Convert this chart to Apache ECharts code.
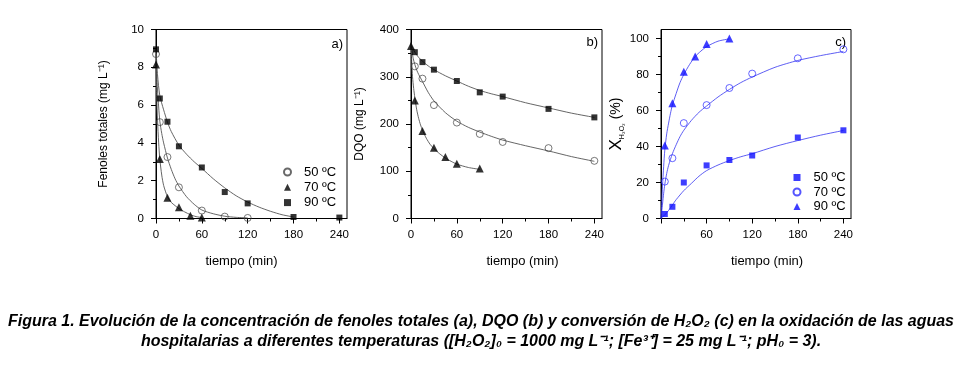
<!DOCTYPE html>
<html><head><meta charset="utf-8">
<script src="https://cdn.jsdelivr.net/npm/echarts@6/dist/echarts.min.js"></script>
<style>html,body{margin:0;padding:0;background:#fff}#c{width:962px;height:385px}</style>
</head><body><div id="c"></div>
<script>
// ---------- tick values ----------
const xMajor = [0, 60, 120, 180, 240];
const xMinor = [30, 90, 150, 210];
const xLabelsC = [60, 120, 180, 240];
const yMajorA = [0, 2, 4, 6, 8, 10];
const yMinorA = [1, 3, 5, 7, 9];
const yMajorB = [0, 100, 200, 300, 400];
const yMinorB = [50, 150, 250, 350];
const yMajorC = [0, 20, 40, 60, 80, 100];
const yMinorC = [10, 30, 50, 70, 90];

// ---------- panel a: Fenoles totales (mg L-1) ----------
const a50 = [[0,8.7],[5,5.1],[15,3.25],[30,1.65],[60,0.42],[90,0.1],[120,0.03]];
const a70 = [[0,8.15],[5,3.15],[15,1.1],[30,0.6],[45,0.15],[60,0.05]];
const a90 = [[0,8.95],[5,6.35],[15,5.12],[30,3.82],[60,2.7],[90,1.4],[120,0.8],[180,0.08],[240,0.05]];
// fitted curves
const a50fit = [[0,8.7],[1,7.6],[2,6.8],[3.5,5.9],[5,5.15],[7.5,4.5],[10,4.0],[15,3.2],[20,2.6],[25,2.1],[30,1.72],[40,1.15],[50,0.75],[60,0.45],[75,0.25],[90,0.12],[105,0.06],[120,0.03]];
const a70fit = [[0,8.15],[1,6.4],[2,5.2],[3.5,4.0],[5,3.15],[7.5,2.3],[10,1.75],[15,1.15],[20,0.85],[25,0.68],[30,0.52],[37.5,0.35],[45,0.2],[52.5,0.1],[60,0.05]];
const a90fit = [[0,8.95],[2,7.6],[5,6.5],[10,5.75],[15,5.1],[20,4.6],[30,3.88],[40,3.4],[50,3.0],[60,2.65],[75,2.1],[90,1.62],[105,1.2],[120,0.87],[135,0.6],[150,0.38],[165,0.2],[180,0.08]];

// ---------- panel b: DQO (mg L-1) ----------
const b50 = [[5,322],[15,296],[30,240],[60,203],[90,179],[120,162],[180,149],[240,122]];
const b70 = [[0,365],[5,250],[15,185],[30,150],[45,130],[60,116],[90,106]];
const b90 = [[5,352],[15,331],[30,315],[60,291],[90,267],[120,258],[180,232],[240,214]];
const b50fit = [[0,372],[1.5,352],[3,338],[5,326],[7.5,314],[10,305],[15,290],[22.5,267],[30,249],[45,224],[60,206],[75,193],[90,183],[105,174],[120,166],[150,154],[180,143],[210,131],[240,121]];
const b70fit = [[0,370],[1,330],[2,300],[3.5,275],[5,256],[7.5,230],[10,212],[12.5,198],[15,187],[20,170],[25,157],[30,148],[37.5,137],[45,128],[52.5,121],[60,115],[75,108],[90,104]];
const b90fit = [[0,368],[2.5,360],[5,352],[10,341],[15,333],[22.5,323],[30,315],[45,302],[60,291],[75,280],[90,271],[105,264],[120,258],[150,245],[180,234],[210,223],[240,214]];

// ---------- panel c: X H2O2 (%) ----------
const c50 = [[5,2.5],[15,6.5],[30,20],[60,29.5],[90,32.5],[120,35],[180,45],[240,49]];
const c70 = [[5,20.5],[15,33.5],[30,53],[60,63],[90,72.5],[120,80.5],[180,89],[240,94]];
const c90 = [[5,40.5],[15,64],[30,81.5],[45,90],[60,97],[90,100]];
const c50fit = [[0,0],[5,2],[10,4.5],[15,7.5],[20,10.5],[30,15.5],[40,19.5],[50,23.5],[60,26.6],[75,29.7],[90,32.2],[105,34.3],[120,36],[150,40],[180,43.3],[210,46.3],[240,48.9]];
const c70fit = [[0,0],[1,4],[2,8],[3.5,14],[5,19],[7.5,25],[10,29.5],[15,36],[20,41],[25,45.5],[30,49],[40,54.5],[50,59],[60,62.5],[75,67.5],[90,71.7],[105,75.5],[120,78.6],[150,84],[180,87.8],[210,90.5],[240,92.8]];
const c90fit = [[0,0],[1,9],[2,18],[3.5,29],[5,38],[7.5,47],[10,53],[12.5,58.5],[15,63],[20,69.5],[25,75.5],[30,80],[37.5,85.5],[45,90],[52.5,93],[60,95.5],[75,98.5],[90,99.8]];

const legendText = {a50:'50 ºC', a70:'70 ºC', a90:'90 ºC', c50:'50 ºC', c70:'70 ºC', c90:'90 ºC'};

const FONT = '"Liberation Sans", Arial, sans-serif';
const BLUE = '#0d0dff';
const grids = [
  {left:156, top:29.5, width:191, height:189},
  {left:411, top:29.5, width:191, height:189},
  {left:661, top:29.5, width:190, height:189}
];

function xMain(g, labels, namePad) {
  return {gridIndex:g, type:'value', min:0, max:250,
    axisLine:{show:true, onZero:false, lineStyle:{color:'#000', width:1}},
    axisTick:{show:true, inside:false, length:5, customValues:xMajor, lineStyle:{color:'#000'}},
    axisLabel:{customValues:labels, margin:10, color:'#000', fontSize:11.5, fontFamily:FONT},
    splitLine:{show:false},
    name:'tiempo (min)', nameLocation:'middle', nameGap:36,
    nameTextStyle:{color:'#000', fontSize:13, fontFamily:FONT, padding:namePad}};
}
function xMin(g) {
  return {gridIndex:g, type:'value', min:0, max:250, position:'bottom',
    axisLine:{show:false}, axisLabel:{show:false}, splitLine:{show:false},
    axisTick:{show:true, inside:false, length:3, customValues:xMinor, lineStyle:{color:'#000'}}};
}
function yMain(g, max, major, name, gap, nts) {
  return {gridIndex:g, type:'value', min:0, max:max,
    axisLine:{show:true, onZero:false, lineStyle:{color:'#000', width:1}},
    axisTick:{show:true, inside:false, length:5, customValues:major, lineStyle:{color:'#000'}},
    axisLabel:{customValues:major, margin:12, color:'#000', fontSize:11.5, fontFamily:FONT},
    splitLine:{show:false},
    name:name, nameLocation:'middle', nameGap:gap, nameTextStyle:nts};
}
function yMin(g, max, minor) {
  return {gridIndex:g, type:'value', min:0, max:max, position:'left',
    axisLine:{show:false}, axisLabel:{show:false}, splitLine:{show:false},
    axisTick:{show:true, inside:false, length:3, customValues:minor, lineStyle:{color:'#000'}}};
}

const openStyle = (c, w) => ({color:'transparent', borderColor:c, borderWidth:w});
function marks(name, data, xi, symbol, size, style) {
  return {name:name, type:'scatter', data:data, xAxisIndex:xi, yAxisIndex:xi,
    symbol:symbol, symbolSize:size, itemStyle:style, z:5, silent:true};
}
function fit(name, data, xi, color, w) {
  return {name:name, type:'line', data:data, xAxisIndex:xi, yAxisIndex:xi,
    showSymbol:false, symbol:'none', smooth:0.25,
    lineStyle:{color:color, width:w}, z:3, silent:true};
}

const GREY = '#555';
const legendBase = {orient:'vertical', itemWidth:7, itemHeight:7, itemGap:2.3, selectedMode:false,
  formatter:n => legendText[n], textStyle:{color:'#000', fontSize:13, fontFamily:FONT, padding:[0,0,0,8]}};
const option = {
  animation:false,
  backgroundColor:'#fff',
  grid: grids.map(g => Object.assign({show:true, borderColor:'#000', borderWidth:1, backgroundColor:'transparent', containLabel:false}, g)),
  xAxis:[xMain(0, xMajor, [0,20,0,0]), xMin(0), xMain(1, xMajor, [0,0,0,32]), xMin(1), xMain(2, xLabelsC, [0,0,0,22]), xMin(2)],
  yAxis:[
    yMain(0, 10, yMajorA, 'Fenoles totales (mg L⁻¹)', 46, {color:'#000', fontSize:12, fontFamily:FONT}), yMin(0, 10, yMinorA),
    yMain(1, 400, yMajorB, 'DQO (mg L⁻¹)', 45, {color:'#000', fontSize:12, fontFamily:FONT}), yMin(1, 400, yMinorB),
    yMain(2, 105, yMajorC, '{x|X}{s|H₂O₂}{p| (%)}', 34, {color:'#000', fontFamily:FONT,
      rich:{x:{fontSize:17, fontFamily:FONT, color:'#000', lineHeight:20},
            s:{fontSize:7, fontFamily:FONT, color:'#000', verticalAlign:'bottom', lineHeight:8},
            p:{fontSize:14, fontFamily:FONT, color:'#000', lineHeight:20}}}), yMin(2, 105, yMinorC)
  ],
  legend:[
    Object.assign({}, legendBase, {left:278, top:160.5, data:['a50','a70','a90']}),
    Object.assign({}, legendBase, {left:787.5, top:166, itemGap:1.5, data:['c50','c70','c90']})
  ],
  series:[
    fit('fa50', a50fit, 0, GREY, 0.9), fit('fa70', a70fit, 0, GREY, 0.9), fit('fa90', a90fit, 0, GREY, 0.9),
    marks('a50', a50, 0, 'circle', 7, openStyle('#444', 0.9)),
    marks('a70', a70, 0, 'triangle', 8, {color:'#000'}),
    marks('a90', a90, 0, 'rect', 6, {color:'#000'}),
    fit('fb50', b50fit, 2, GREY, 0.9), fit('fb70', b70fit, 2, GREY, 0.9), fit('fb90', b90fit, 2, GREY, 0.9),
    marks('b50', b50, 2, 'circle', 7, openStyle('#444', 0.9)),
    marks('b70', b70, 2, 'triangle', 8, {color:'#000'}),
    marks('b90', b90, 2, 'rect', 6, {color:'#000'}),
    fit('fc50', c50fit, 4, '#3535f0', 0.8), fit('fc70', c70fit, 4, '#3535f0', 0.8), fit('fc90', c90fit, 4, '#3535f0', 0.8),
    marks('c50', c50, 4, 'rect', 6, {color:BLUE}),
    marks('c70', c70, 4, 'circle', 7, openStyle('#2a2aff', 0.9)),
    marks('c90', c90, 4, 'triangle', 8, {color:BLUE})
  ]
};

// caption
const cap1 = 'Figura 1. Evolución de la concentración de fenoles totales (a), DQO (b) y conversión de H₂O₂ (c) en la oxidación de las aguas';
const cap2 = 'hospitalarias a diferentes temperaturas ([H₂O₂]₀ = 1000 mg L⁻¹; [Fe³⁺] = 25 mg L⁻¹; pH₀ = 3).';
const capFont = 'italic bold 16px "Liberation Sans Narrow", "Liberation Sans", Arial, sans-serif';
const ctx = document.createElement('canvas').getContext('2d');
ctx.font = capFont;
const sx = 946 / ctx.measureText(cap1).width;

option.graphic = [
  {type:'text', x:343, y:44, style:{text:'a)', font:'13px ' + FONT, fill:'#000', align:'right', verticalAlign:'middle'}},
  {type:'text', x:598, y:42, style:{text:'b)', font:'13px ' + FONT, fill:'#000', align:'right', verticalAlign:'middle'}},
  {type:'text', x:846, y:42, style:{text:'c)', font:'13px ' + FONT, fill:'#000', align:'right', verticalAlign:'middle'}},
  {type:'text', x:481, y:322, scaleX:sx, style:{text:cap1, font:capFont, fill:'#000', align:'center', verticalAlign:'middle'}},
  {type:'text', x:481, y:342, scaleX:sx, style:{text:cap2, font:capFont, fill:'#000', align:'center', verticalAlign:'middle'}}
];

const chart = echarts.init(document.getElementById('c'), null, {renderer:'canvas'});
chart.setOption(option);
</script></body></html>
